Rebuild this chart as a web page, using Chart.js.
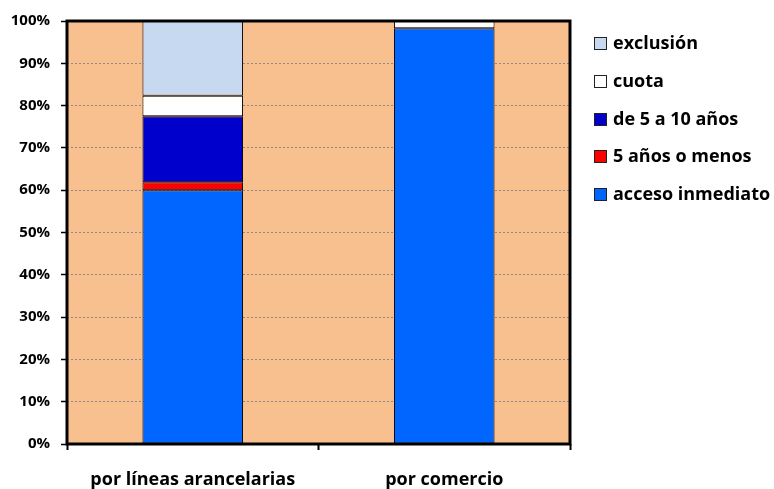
<!DOCTYPE html>
<html>
<head>
<meta charset="utf-8">
<script src="https://cdn.jsdelivr.net/npm/chart.js@4.4.1/dist/chart.umd.min.js"></script>
<style>
  body { margin: 0; background: #fff; font-family: "Open Sans", sans-serif; }
  #wrap { position: relative; width: 774px; height: 489px; }
  #legend { position: absolute; left: 594px; top: 0; }
  .item { position: absolute; left: 0; white-space: nowrap; font-weight: bold; font-size: 18px; line-height: 22px; color: #000; }
  .box { display: inline-block; width: 11px; height: 11px; border: 1px solid #222; vertical-align: middle; margin-right: 6px; position: relative; top: -1px; }
</style>
</head>
<body>
<div id="wrap">
  <canvas id="chart"></canvas>
  <div id="legend"></div>
</div>
<script>
// categories
const categories = ["por líneas arancelarias", "por comercio"];

// series (percent of total), bottom to top
const accesoInmediato = [60.0, 98.3];
const cincoOMenos = [1.9, 0];
const deCincoADiez = [15.6, 0];
const cuota = [4.8, 1.7];
const exclusion = [17.7, 0];

const seriesNames = ["acceso inmediato", "5 años o menos", "de 5 a 10 años", "cuota", "exclusión"];
const seriesColors = ["#0066FF", "#FF0000", "#0000CC", "#FFFFFF", "#C6D9F1"];
const seriesData = [accesoInmediato, cincoOMenos, deCincoADiez, cuota, exclusion];

const yTicks = [0, 10, 20, 30, 40, 50, 60, 70, 80, 90, 100];

// orange plot background + black frame
const plotFrame = {
  id: "plotFrame",
  beforeDraw(chart) {
    const a = chart.chartArea, c = chart.ctx;
    c.save();
    c.fillStyle = "#F9C08F";
    c.fillRect(a.left, a.top, a.right - a.left, a.bottom - a.top);
    c.restore();
  },
  afterDatasetsDraw(chart) {
    const a = chart.chartArea, c = chart.ctx;
    c.save();
    c.strokeStyle = "#000";
    c.lineWidth = 3;
    c.strokeRect(a.left, a.top, a.right - a.left, a.bottom - a.top);
    c.restore();
  }
};

const datasets = seriesNames.map((name, i) => ({
  label: name,
  data: seriesData[i],
  backgroundColor: seriesColors[i],
  borderColor: "#000",
  borderWidth: 1,
  borderSkipped: false,
  barPercentage: 0.4,
  categoryPercentage: 1.0
}));

new Chart(document.getElementById("chart"), {
  type: "bar",
  data: { labels: categories, datasets },
  options: {
    responsive: true,
    maintainAspectRatio: false,
    animation: false,
    layout: { padding: { left: 0, top: 21, right: 204, bottom: 0 } },
    plugins: { legend: { display: false }, tooltip: { enabled: false } },
    scales: {
      x: {
        stacked: true,
        grid: { drawOnChartArea: false, drawTicks: true, tickLength: 6, tickColor: "#000", tickWidth: 2 },
        border: { display: false },
        ticks: { color: "#000", padding: 19, font: { family: "Open Sans", size: 18, weight: "bold" } },
        afterFit(scale) { scale.height = 45; }
      },
      y: {
        stacked: true,
        min: 0,
        max: 100,
        afterBuildTicks(scale) { scale.ticks = yTicks.map(v => ({ value: v })); },
        grid: { color: "#8a8a8a", lineWidth: 1, tickLength: 6, tickColor: "#000", tickWidth: 1.5 },
        border: { display: false, dash: [2, 2] },
        ticks: {
          color: "#000",
          padding: 11,
          font: { family: "Open Sans", size: 15, weight: "bold" },
          callback: v => v + "%"
        },
        afterFit(scale) { scale.width = 67; }
      }
    }
  },
  plugins: [plotFrame]
});

// legend, top item first (reverse of stacking order)
const legendTops = [42, 80, 118, 155, 193];
const legend = document.getElementById("legend");
seriesNames.slice().reverse().forEach((name, k) => {
  const i = seriesNames.length - 1 - k;
  const el = document.createElement("div");
  el.className = "item";
  el.style.top = (legendTops[k] - 11) + "px";
  el.innerHTML = '<span class="box" style="background:' + seriesColors[i] + '"></span>' + name;
  legend.appendChild(el);
});
</script>
</body>
</html>
